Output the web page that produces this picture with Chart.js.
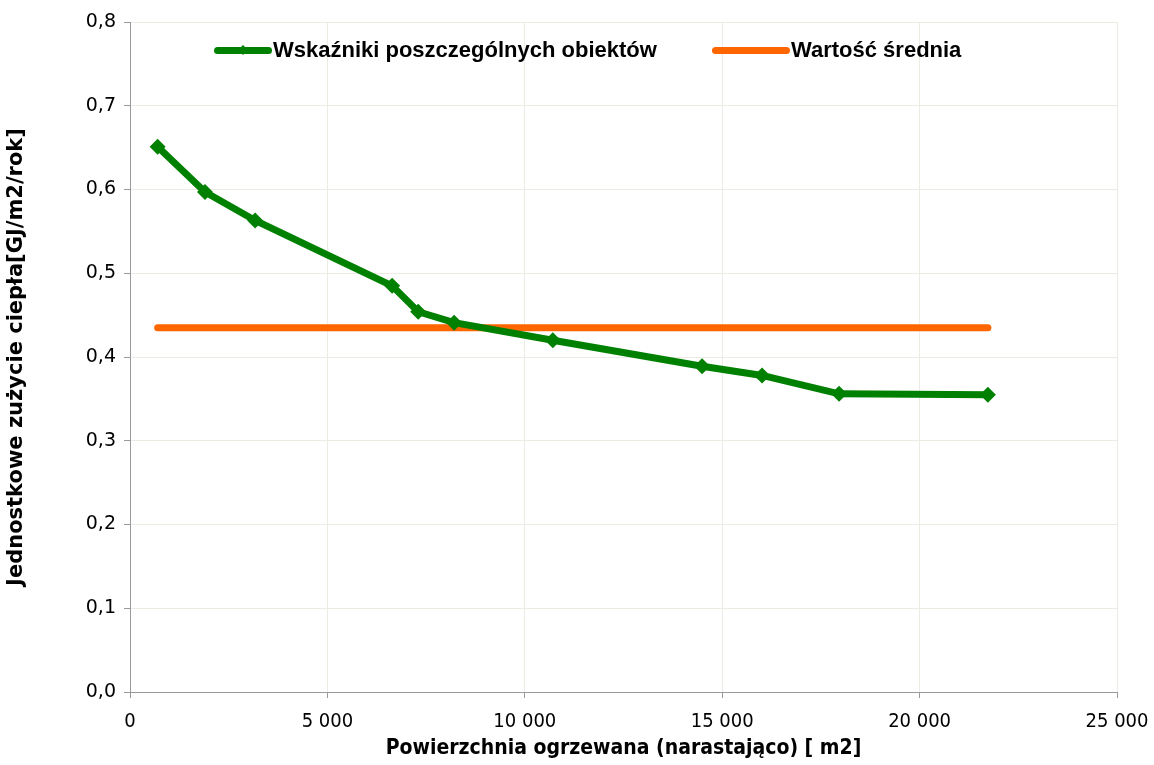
<!DOCTYPE html>
<html>
<head>
<meta charset="utf-8">
<script src="https://cdn.jsdelivr.net/npm/chart.js@4.4.1/dist/chart.umd.min.js"></script>
<style>
  html, body { margin: 0; padding: 0; background: #fff; }
  #wrap { position: relative; width: 1154px; height: 765px; }
  .leg { position: absolute; top: 37px; height: 26px; display: flex; align-items: center;
         font-family: "Liberation Sans", Arial, sans-serif; font-size: 22px; font-weight: bold; color: #000; }
  .leg .sw { position: relative; height: 7px; border-radius: 4px; margin-right: 1px; }
  .leg .dia { position: absolute; left: 50%; top: 50%; width: 7px; height: 7px; background: #008000;
              transform: translate(-50%, -50%) rotate(45deg); }
</style>
</head>
<body>
<div id="wrap">
  <canvas id="myChart" width="1154" height="765"></canvas>
  <div class="leg" style="left:214px"><span class="sw" style="width:58px;background:#008000"><span class="dia"></span></span>Wskaźniki poszczególnych obiektów</div>
  <div class="leg" style="left:712px"><span class="sw" style="width:78px;background:#ff6600"></span>Wartość średnia</div>
</div>
<script>
// powierzchnia narastająco [m2] i wskaźnik [GJ/m2/rok]
const area = [700, 1900, 3170, 6640, 7300, 8210, 10710, 14490, 16010, 17960, 21730];
const index = [0.651, 0.597, 0.563, 0.485, 0.454, 0.441, 0.420, 0.389, 0.378, 0.356, 0.355];
const avgArea = [700, 21730];
const avgValue = [0.435, 0.435];

const xTicks = [0, 5000, 10000, 15000, 20000, 25000];
const yTicks = [0, 0.1, 0.2, 0.3, 0.4, 0.5, 0.6, 0.7, 0.8];

const toXY = (xs, ys) => xs.map((x, i) => ({x: x, y: ys[i]}));

const ctx = document.getElementById('myChart').getContext('2d');
const myChart = new Chart(ctx, {
    type: 'line',
    data: {
        datasets: [{
            label: 'Wartość średnia',
            data: toXY(avgArea, avgValue),
            borderColor: '#ff6600',
            borderWidth: 7,
            borderCapStyle: 'round',
            pointRadius: 0,
            order: 2
        }, {
            label: 'Wskaźniki poszczególnych obiektów',
            data: toXY(area, index),
            borderColor: '#008000',
            backgroundColor: '#008000',
            borderWidth: 7,
            pointStyle: 'rectRot',
            pointRadius: 8,
            pointBorderWidth: 0,
            order: 1
        }]
    },
    options: {
        responsive: false,
        animation: false,
        layout: { padding: { left: 0, right: 37, top: 22, bottom: 0 } },
        plugins: {
            legend: { display: false },
            tooltip: { enabled: false }
        },
        scales: {
            x: {
                type: 'linear',
                min: 0, max: 25000,
                afterBuildTicks: s => { s.ticks = xTicks.map(v => ({value: v})); },
                afterFit: s => { s.height = 73; s.paddingLeft = 0; s.paddingRight = 0; },
                grid: { color: '#ecece4', tickColor: '#999', tickLength: 6 },
                border: { color: '#999' },
                ticks: {
                    color: '#000',
                    padding: 12,
                    maxRotation: 0,
                    font: { family: 'DejaVu Sans Condensed', size: 20 },
                    callback: v => String(v).replace(/\B(?=(\d{3})+$)/g, ' ')
                },
                title: {
                    display: true,
                    text: 'Powierzchnia ogrzewana (narastająco) [ m2]',
                    color: '#000',
                    padding: { top: 2 },
                    font: { family: 'DejaVu Sans Condensed', size: 21, weight: 'bold' }
                }
            },
            y: {
                min: 0, max: 0.8,
                afterBuildTicks: s => { s.ticks = yTicks.map(v => ({value: v})); },
                afterFit: s => { s.width = 130; s.paddingTop = 0; s.paddingBottom = 0; },
                grid: { color: '#ecece4', tickColor: '#999', tickLength: 6 },
                border: { color: '#999' },
                ticks: {
                    color: '#000',
                    padding: 8,
                    font: { family: 'DejaVu Sans', size: 19 },
                    callback: v => v.toFixed(1).replace('.', ',')
                },
                title: {
                    display: true,
                    text: 'Jednostkowe zużycie ciepła[GJ/m2/rok]',
                    color: '#000',
                    padding: { bottom: 0 },
                    font: { family: 'DejaVu Sans', size: 21, weight: 'bold' }
                }
            }
        }
    }
});
</script>
</body>
</html>
